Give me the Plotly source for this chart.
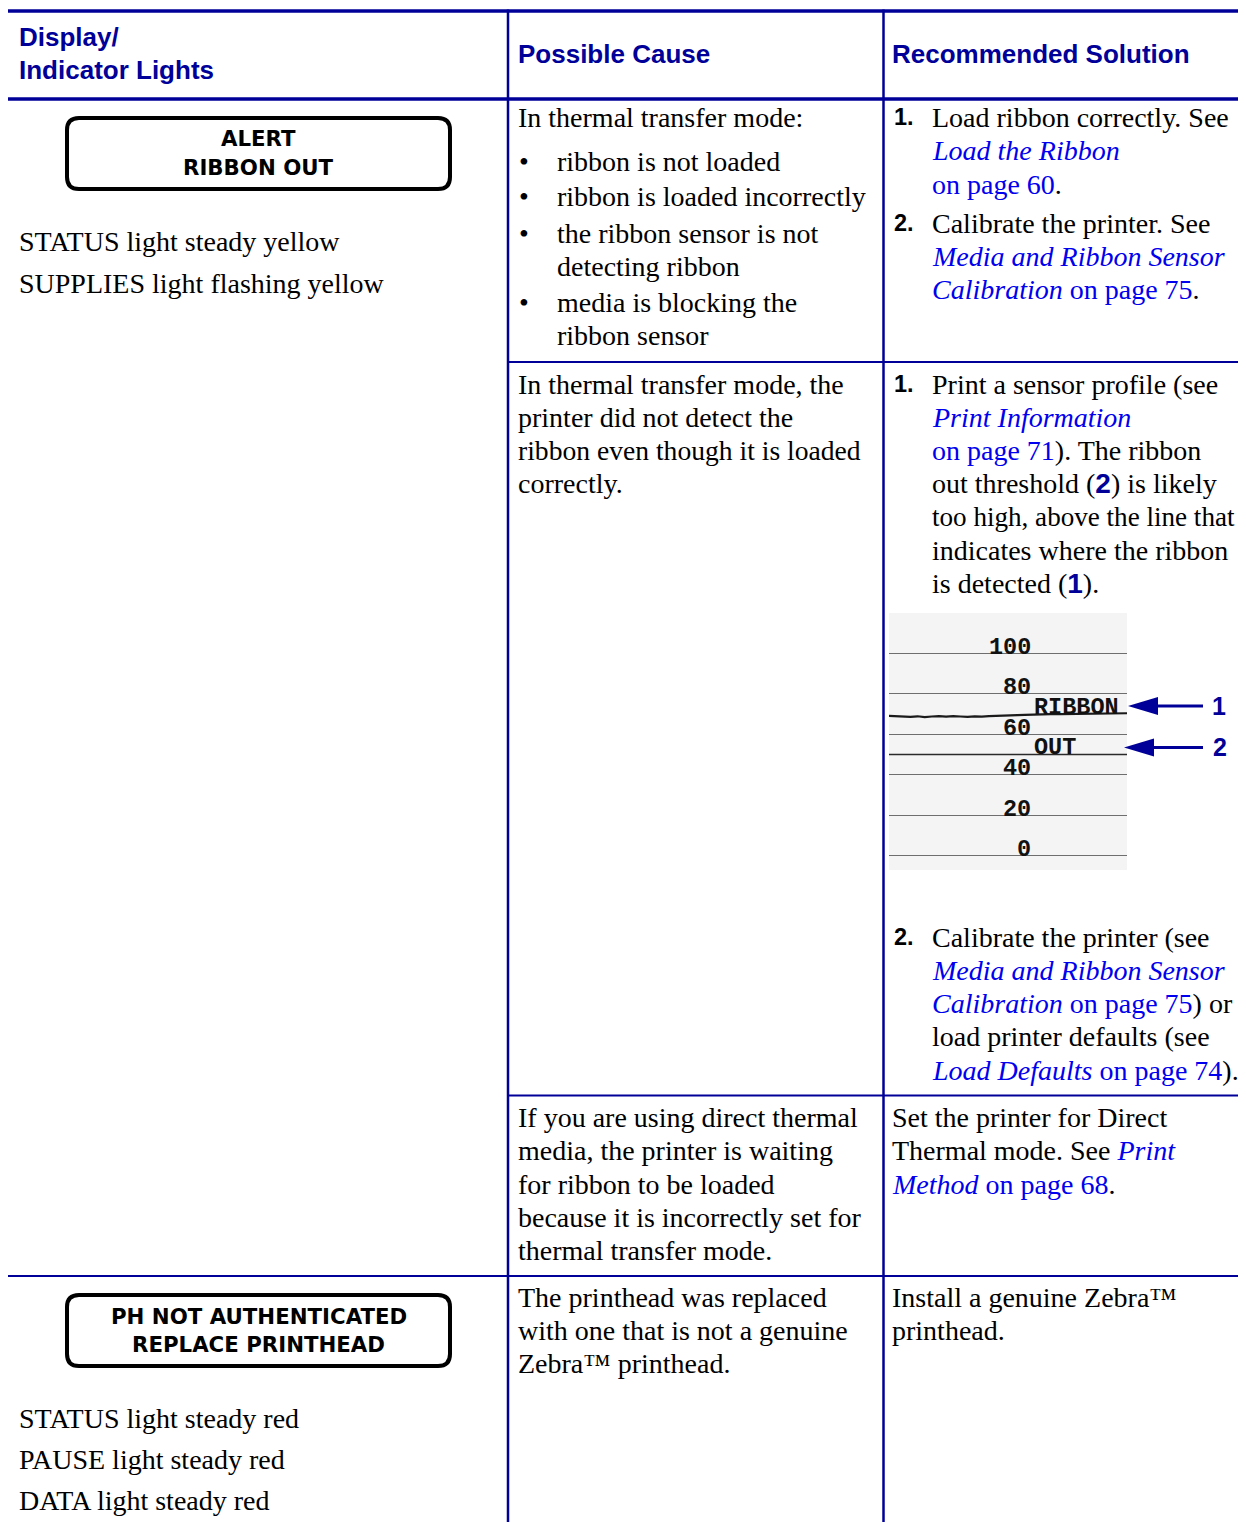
import plotly.graph_objects as go

# reference canvas size and page offset (the page body adds an 8px margin)
RW, RH = 1246, 1522
OFF = 8
FW, FH = RW - OFF, RH - OFF

# ------------------------------------------------------------------ data
header_labels = ["Display/", "Indicator Lights", "Possible Cause", "Recommended Solution"]

display_msg_1 = ["ALERT", "RIBBON OUT"]
display_msg_2 = ["PH NOT AUTHENTICATED", "REPLACE PRINTHEAD"]
lights_1 = ["STATUS light steady yellow", "SUPPLIES light flashing yellow"]
lights_2 = ["STATUS light steady red", "PAUSE light steady red", "DATA light steady red"]

cause_1_intro = "In thermal transfer mode:"
cause_1_bullets = [
    ["ribbon is not loaded"],
    ["ribbon is loaded incorrectly"],
    ["the ribbon sensor is not", "detecting ribbon"],
    ["media is blocking the", "ribbon sensor"],
]
cause_2 = ["In thermal transfer mode, the", "printer did not detect the",
           "ribbon even though it is loaded", "correctly."]
cause_3 = ["If you are using direct thermal", "media, the printer is waiting",
           "for ribbon to be loaded", "because it is incorrectly set for",
           "thermal transfer mode."]
cause_4 = ["The printhead was replaced", "with one that is not a genuine", "Zebra™ printhead."]

LINK = "#0000ee"
NAVY = "#000099"


def link(t):
    return f"<span style='color:{LINK}'>{t}</span>"


def ilink(t):
    return f"<span style='color:{LINK}'><i>{t}</i></span>"


def callout(t):
    return f"<span style='font-family:Liberation Sans, Arial;color:{NAVY}'><b>{t}</b></span>"


solution_1 = [
    ("1.", ["Load ribbon correctly. See", ilink("Load the Ribbon"), link("on page 60") + "."]),
    ("2.", ["Calibrate the printer. See", ilink("Media and Ribbon Sensor"),
            ilink("Calibration") + link(" on page 75") + "."]),
]
solution_2a = ("1.", ["Print a sensor profile (see", ilink("Print Information"),
                      link("on page 71") + "). The ribbon",
                      "out threshold (" + callout("2") + ") is likely",
                      "too high, above the line that", "indicates where the ribbon",
                      "is detected (" + callout("1") + ")."])
solution_2b = ("2.", ["Calibrate the printer (see", ilink("Media and Ribbon Sensor"),
                      ilink("Calibration") + link(" on page 75") + ") or",
                      "load printer defaults (see",
                      ilink("Load Defaults") + link(" on page 74") + ")."])
solution_3 = ["Set the printer for Direct", "Thermal mode. See " + ilink("Print"),
              ilink("Method") + link(" on page 68") + "."]
solution_4 = ["Install a genuine Zebra™", "printhead."]

# sensor profile inset (values read from the printed profile)
profile_levels = [0, 20, 40, 60, 80, 100]
profile_level_labels = ["0", "20", "40", "60", "80", "100"]
ribbon_x = [0, 3, 6, 9, 12, 15, 18, 21, 24, 27, 30, 33, 36, 39, 42, 45, 48, 51,
            54, 57, 60, 64, 68, 72, 76, 80, 84, 88, 92, 96, 100]
ribbon_y = [69.1, 69.0, 68.8, 68.6, 68.9, 68.5, 68.8, 69.0, 68.7, 69.0, 68.8, 68.6,
            68.9, 68.7, 69.0, 69.2, 69.1, 69.4, 69.5, 69.6, 69.8, 69.9, 70.0, 70.0,
            70.1, 70.1, 70.2, 70.2, 70.3, 70.3, 70.4]
ribbon_out_threshold = 50
profile_marker_labels = ["RIBBON", "OUT"]
callout_labels = ["1", "2"]

# ------------------------------------------------------------------ helpers / layout
SERIF = "Liberation Serif, Times New Roman, serif"
SANS = "Liberation Sans, Arial, sans-serif"
BOX = "DejaVu Sans, sans-serif"
MONO = "Liberation Mono, monospace"
BODY = 28
PITCH = 33.3
# a few lines are set slightly tighter in the reference
TIGHT = {"too high, above the line that": 27.1, "ribbon even though it is loaded": 27.6}


def X(px):
    return (px - OFF) / FW


def Y(py):
    return 1 - (py - OFF) / FH


annotations = []
shapes = []


def text(x, y, t, size=None, family=SERIF, color="#000000", xanchor="left"):
    if size is None:
        size = TIGHT.get(t, BODY)
    annotations.append(dict(x=X(x), y=Y(y), xref="paper", yref="paper", text=t,
                            showarrow=False, xanchor=xanchor, yanchor="middle",
                            font=dict(size=size, family=family, color=color)))


def hline(y, x0, x1, w):
    shapes.append(dict(type="line", xref="paper", yref="paper", x0=X(x0), x1=X(x1),
                       y0=Y(y), y1=Y(y), line=dict(color=NAVY, width=w)))


def vline(x, y0, y1, w):
    shapes.append(dict(type="line", xref="paper", yref="paper", x0=X(x), x1=X(x),
                       y0=Y(y0), y1=Y(y1), line=dict(color=NAVY, width=w)))


def rounded_box(x0, y0, x1, y1, r):
    pts = [
        ("M", (x0 + r, y0)), ("L", (x1 - r, y0)), ("Q", (x1, y0), (x1, y0 + r)),
        ("L", (x1, y1 - r)), ("Q", (x1, y1), (x1 - r, y1)), ("L", (x0 + r, y1)),
        ("Q", (x0, y1), (x0, y1 - r)), ("L", (x0, y0 + r)), ("Q", (x0, y0), (x0 + r, y0)),
    ]
    d = ""
    for p in pts:
        d += p[0] + " " + " ".join(f"{X(a):.6f},{Y(b):.6f}" for a, b in p[1:]) + " "
    shapes.append(dict(type="path", xref="paper", yref="paper", path=d + "Z",
                       line=dict(color="#000000", width=4), fillcolor="rgba(0,0,0,0)"))


def arrow(x_tip, x_tail, y, head_len, head_h):
    shapes.append(dict(type="line", xref="paper", yref="paper", x0=X(x_tip + head_len - 2),
                       x1=X(x_tail), y0=Y(y), y1=Y(y), line=dict(color=NAVY, width=3.2)))
    d = (f"M {X(x_tip):.6f},{Y(y):.6f} L {X(x_tip + head_len):.6f},{Y(y - head_h / 2):.6f} "
         f"L {X(x_tip + head_len):.6f},{Y(y + head_h / 2):.6f} Z")
    shapes.append(dict(type="path", xref="paper", yref="paper", path=d,
                       line=dict(color=NAVY, width=0), fillcolor=NAVY))


# table rules
COL1, COL2 = 508, 883.5
hline(11, 8, RW, 3.5)
hline(99, 8, RW, 3.5)
hline(362, COL1, RW, 2)
hline(1095.5, COL1, RW, 2)
hline(1276, 8, RW, 2)
vline(COL1, 9.5, RH, 2.5)
vline(COL2, 9.5, RH, 2.5)

# header
HS = 26
text(17, 37, "<b>" + header_labels[0] + "</b>", HS, SANS, NAVY)
text(17, 70, "<b>" + header_labels[1] + "</b>", HS, SANS, NAVY)
text(516, 54.5, "<b>" + header_labels[2] + "</b>", HS, SANS, NAVY)
text(890, 54.5, "<b>" + header_labels[3] + "</b>", HS, SANS, NAVY)

# column 1
rounded_box(67, 118, 450, 189, 12)
rounded_box(67, 1295, 450, 1366, 12)
for i, t in enumerate(display_msg_1):
    text(258.5, 139 + i * 28.5, "<b>" + t + "</b>", 21.3, BOX, "#000000", "center")
for i, t in enumerate(display_msg_2):
    text(258.5, 1316 + i * 28.5, "<b>" + t + "</b>", 21.3, BOX, "#000000", "center")
for i, t in enumerate(lights_1):
    text(17, 242 + i * 41.3, t)
for i, t in enumerate(lights_2):
    text(17, 1418 + i * 41.3, t)

# column 2
CX = 516
text(CX, 118, cause_1_intro)
y = 161
for item in cause_1_bullets:
    text(517, y, "•")
    for j, line in enumerate(item):
        text(555, y + j * PITCH, line)
    y += (len(item) - 1) * PITCH + 36
for i, t in enumerate(cause_2):
    text(CX, 384 + i * PITCH, t)
for i, t in enumerate(cause_3):
    text(CX, 1117.5 + i * PITCH, t)
for i, t in enumerate(cause_4):
    text(CX, 1297 + i * PITCH, t)

# column 3
NX, TX, PX = 892, 930, 890


def numbered(y0, num, lines):
    text(NX, y0, "<b>" + num + "</b>", 23.5, SANS)
    for i, t in enumerate(lines):
        text(TX, y0 + i * PITCH, t)


numbered(117.5, *solution_1[0])
numbered(223, *solution_1[1])
numbered(384, *solution_2a)
numbered(937, *solution_2b)
for i, t in enumerate(solution_3):
    text(PX, 1117.5 + i * PITCH, t)
for i, t in enumerate(solution_4):
    text(PX, 1297 + i * PITCH, t)

# ------------------------------------------------------------------ sensor profile inset
IN_X0, IN_X1, IN_Y0, IN_Y1 = 889, 1127, 613, 870
PX_PER_UNIT = 2.025
ZERO_PY = 855.8
y_lo = (ZERO_PY - IN_Y1) / PX_PER_UNIT
y_hi = (ZERO_PY - IN_Y0) / PX_PER_UNIT

fig = go.Figure()
fig.add_trace(go.Scatter(x=[0, 100], y=[ribbon_out_threshold] * 2, mode="lines",
                         line=dict(color="#2a2a2a", width=1.6), hoverinfo="skip"))
fig.add_trace(go.Scatter(x=ribbon_x, y=ribbon_y, mode="lines",
                         line=dict(color="#1a1a1a", width=2.2), hoverinfo="skip"))

LBL = dict(size=23.5, family=MONO, color="#111111")
for lvl, lab in zip(profile_levels, profile_level_labels):
    annotations.append(dict(x=60.3, y=lvl, xref="x", yref="y", text="<b>" + lab + "</b>",
                            showarrow=False, xanchor="right", yanchor="bottom", yshift=-9.5,
                            font=LBL))
annotations.append(dict(x=60.2, y=ribbon_y[-1], xref="x", yref="y",
                        text="<b>" + profile_marker_labels[0] + "</b>", showarrow=False,
                        xanchor="left", yanchor="bottom", yshift=-9.5, font=LBL))
annotations.append(dict(x=60.2, y=ribbon_out_threshold, xref="x", yref="y",
                        text="<b>" + profile_marker_labels[1] + "</b>", showarrow=False,
                        xanchor="left", yanchor="bottom", yshift=-8.5, font=LBL))

shapes.insert(0, dict(type="rect", xref="paper", yref="paper", x0=X(IN_X0), x1=X(IN_X1),
                      y0=Y(IN_Y1), y1=Y(IN_Y0), line=dict(width=0), fillcolor="#f4f4f4",
                      layer="below"))

# callout arrows + numbers
arrow(1128, 1203, 706, 30, 18)
arrow(1124, 1203, 747.5, 30, 18)
text(1219, 705.5, "<b>" + callout_labels[0] + "</b>", 25, SANS, NAVY, "center")
text(1220, 747, "<b>" + callout_labels[1] + "</b>", 25, SANS, NAVY, "center")

fig.update_layout(
    width=FW, height=FH, margin=dict(l=0, r=0, t=0, b=0),
    paper_bgcolor="white", plot_bgcolor="rgba(0,0,0,0)", showlegend=False,
    xaxis=dict(domain=[X(IN_X0), X(IN_X1)], range=[0, 100], visible=False, fixedrange=True),
    yaxis=dict(domain=[Y(IN_Y1), Y(IN_Y0)], range=[y_lo, y_hi], showgrid=True,
               tickvals=profile_levels, gridcolor="#6e6e6e", gridwidth=1.4,
               showticklabels=False, zeroline=False, showline=False, ticks="",
               fixedrange=True),
    shapes=shapes, annotations=annotations,
)

fig.write_html("out.html")
